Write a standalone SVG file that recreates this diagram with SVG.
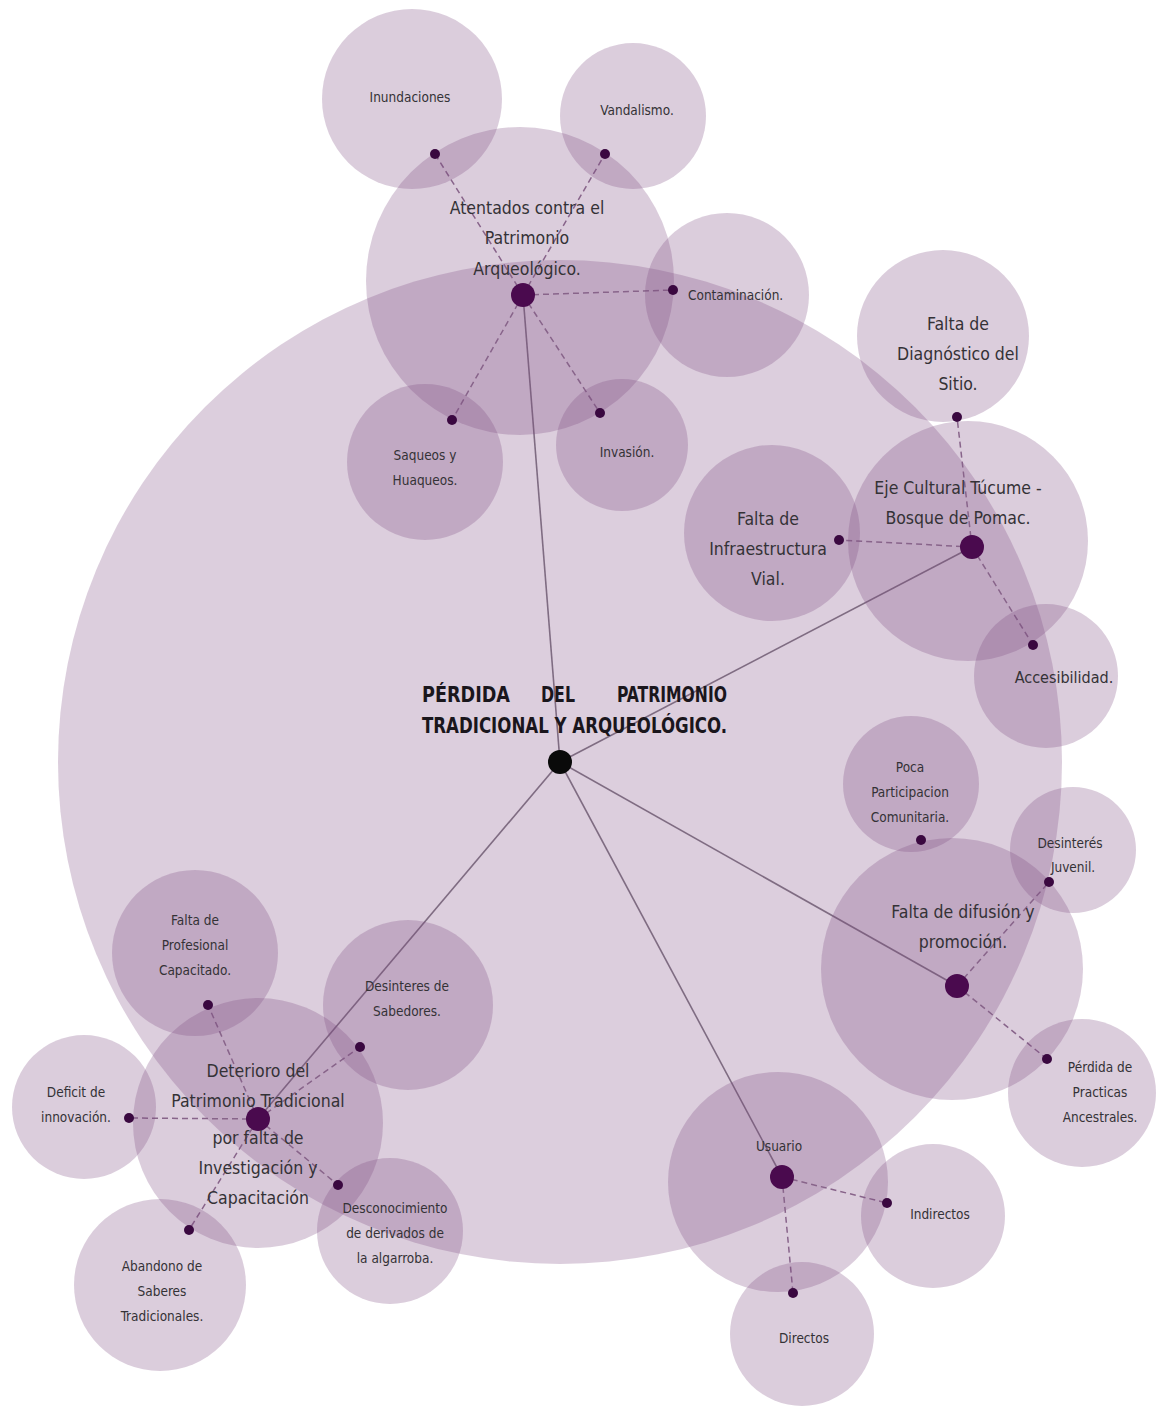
<svg xmlns="http://www.w3.org/2000/svg" width="1172" height="1406" viewBox="0 0 1172 1406">
<style>
.bg{fill:#ffffff}
.c{fill:#7d4a80;fill-opacity:0.28}
.big{fill:#7d4a80;fill-opacity:0.27}
.main{stroke:#7f6c82;stroke-width:1.6;fill:none}
.dash{stroke:#8c6e8e;stroke-width:1.5;stroke-dasharray:6 4;fill:none}
.hd{fill:#4a0a4e}
.sd{fill:#3a0840}
.t{font-family:"DejaVu Sans Condensed","DejaVu Sans",sans-serif;fill:#343236;text-anchor:middle}
.s{font-size:13.5px}
.h{font-size:17.5px}
.title{font-family:"DejaVu Sans Condensed","DejaVu Sans",sans-serif;font-weight:bold;font-size:22px;fill:#1a161c}
</style>
<rect class="bg" x="0" y="0" width="1172" height="1406"/>
<g id="center-halo"><circle class="big" cx="560" cy="762" r="502"/></g>
<g id="connectors">
<line class="main" x1="560" y1="762" x2="523" y2="295"/>
<line class="main" x1="560" y1="762" x2="972" y2="547"/>
<line class="main" x1="560" y1="762" x2="957" y2="986"/>
<line class="main" x1="560" y1="762" x2="782" y2="1177"/>
<line class="main" x1="560" y1="762" x2="258" y2="1119"/>
<line class="dash" x1="523" y1="295" x2="435" y2="154"/>
<line class="dash" x1="523" y1="295" x2="605" y2="154"/>
<line class="dash" x1="523" y1="295" x2="673" y2="290"/>
<line class="dash" x1="523" y1="295" x2="452" y2="420"/>
<line class="dash" x1="523" y1="295" x2="600" y2="413"/>
<line class="dash" x1="972" y1="547" x2="957" y2="417"/>
<line class="dash" x1="972" y1="547" x2="839" y2="540"/>
<line class="dash" x1="972" y1="547" x2="1033" y2="645"/>
<line class="dash" x1="957" y1="986" x2="1049" y2="882"/>
<line class="dash" x1="957" y1="986" x2="1047" y2="1059"/>
<line class="dash" x1="782" y1="1177" x2="887" y2="1203"/>
<line class="dash" x1="782" y1="1177" x2="793" y2="1293"/>
<line class="dash" x1="258" y1="1119" x2="208" y2="1005"/>
<line class="dash" x1="258" y1="1119" x2="129" y2="1118"/>
<line class="dash" x1="258" y1="1119" x2="189" y2="1230"/>
<line class="dash" x1="258" y1="1119" x2="338" y2="1185"/>
<line class="dash" x1="258" y1="1119" x2="360" y2="1047"/>
</g>
<g id="node-atentados">
<circle class="c" cx="520" cy="281" r="154"/>
<circle class="hd" cx="523" cy="295" r="12"/>
<text class="t h" x="527" y="214">Atentados contra el</text>
<text class="t h" x="527" y="244">Patrimonio</text>
<text class="t h" x="527" y="275">Arqueológico.</text>
</g>
<g id="node-inundaciones">
<circle class="c" cx="412" cy="99" r="90"/>
<circle class="sd" cx="435" cy="154" r="5"/>
<text class="t s" x="410" y="102">Inundaciones</text>
</g>
<g id="node-vandalismo">
<circle class="c" cx="633" cy="116" r="73"/>
<circle class="sd" cx="605" cy="154" r="5"/>
<text class="t s" x="637" y="115">Vandalismo.</text>
</g>
<g id="node-contaminacion">
<circle class="c" cx="727" cy="295" r="82"/>
<circle class="sd" cx="673" cy="290" r="5"/>
<text class="t s" x="688" y="300" style="text-anchor:start">Contaminación.</text>
</g>
<g id="node-saqueos">
<circle class="c" cx="425" cy="462" r="78"/>
<circle class="sd" cx="452" cy="420" r="5"/>
<text class="t s" x="425" y="460">Saqueos y</text>
<text class="t s" x="425" y="485">Huaqueos.</text>
</g>
<g id="node-invasion">
<circle class="c" cx="622" cy="445" r="66"/>
<circle class="sd" cx="600" cy="413" r="5"/>
<text class="t s" x="627" y="457">Invasión.</text>
</g>
<g id="node-eje">
<circle class="c" cx="968" cy="541" r="120"/>
<circle class="hd" cx="972" cy="547" r="12"/>
<text class="t h" x="958" y="494">Eje Cultural Túcume -</text>
<text class="t h" x="958" y="524">Bosque de Pomac.</text>
</g>
<g id="node-diagnostico">
<circle class="c" cx="943" cy="336" r="86"/>
<circle class="sd" cx="957" cy="417" r="5"/>
<text class="t h" x="958" y="330">Falta de</text>
<text class="t h" x="958" y="360">Diagnóstico del</text>
<text class="t h" x="958" y="390">Sitio.</text>
</g>
<g id="node-infraestructura">
<circle class="c" cx="772" cy="533" r="88"/>
<circle class="sd" cx="839" cy="540" r="5"/>
<text class="t h" x="768" y="525">Falta de</text>
<text class="t h" x="768" y="555">Infraestructura</text>
<text class="t h" x="768" y="585">Vial.</text>
</g>
<g id="node-accesibilidad">
<circle class="c" cx="1046" cy="676" r="72"/>
<circle class="sd" cx="1033" cy="645" r="5"/>
<text class="t" x="1064" y="683" style="font-size:16px">Accesibilidad.</text>
</g>
<g id="node-difusion">
<circle class="c" cx="952" cy="969" r="131"/>
<circle class="hd" cx="957" cy="986" r="12"/>
<text class="t h" x="963" y="918">Falta de difusión y</text>
<text class="t h" x="963" y="948">promoción.</text>
</g>
<g id="node-participacion">
<circle class="c" cx="911" cy="784" r="68"/>
<circle class="sd" cx="921" cy="840" r="5"/>
<text class="t s" x="910" y="772">Poca</text>
<text class="t s" x="910" y="797">Participacion</text>
<text class="t s" x="910" y="822">Comunitaria.</text>
</g>
<g id="node-desinteres-juvenil">
<circle class="c" cx="1073" cy="850" r="63"/>
<circle class="sd" cx="1049" cy="882" r="5"/>
<text class="t s" x="1070" y="848">Desinterés</text>
<text class="t s" x="1073" y="872">Juvenil.</text>
</g>
<g id="node-practicas">
<circle class="c" cx="1082" cy="1093" r="74"/>
<circle class="sd" cx="1047" cy="1059" r="5"/>
<text class="t s" x="1100" y="1072">Pérdida de</text>
<text class="t s" x="1100" y="1097">Practicas</text>
<text class="t s" x="1100" y="1122">Ancestrales.</text>
</g>
<g id="node-usuario">
<circle class="c" cx="778" cy="1182" r="110"/>
<circle class="hd" cx="782" cy="1177" r="12"/>
<text class="t s" x="779" y="1151">Usuario</text>
</g>
<g id="node-indirectos">
<circle class="c" cx="933" cy="1216" r="72"/>
<circle class="sd" cx="887" cy="1203" r="5"/>
<text class="t s" x="940" y="1219">Indirectos</text>
</g>
<g id="node-directos">
<circle class="c" cx="802" cy="1334" r="72"/>
<circle class="sd" cx="793" cy="1293" r="5"/>
<text class="t s" x="804" y="1343">Directos</text>
</g>
<g id="node-deterioro">
<circle class="c" cx="258" cy="1123" r="125"/>
<circle class="hd" cx="258" cy="1119" r="12"/>
<text class="t h" x="258" y="1077">Deterioro del</text>
<text class="t h" x="258" y="1107">Patrimonio Tradicional</text>
<text class="t h" x="258" y="1144">por falta de</text>
<text class="t h" x="258" y="1174">Investigación y</text>
<text class="t h" x="258" y="1204">Capacitación</text>
</g>
<g id="node-profesional">
<circle class="c" cx="195" cy="953" r="83"/>
<circle class="sd" cx="208" cy="1005" r="5"/>
<text class="t s" x="195" y="925">Falta de</text>
<text class="t s" x="195" y="950">Profesional</text>
<text class="t s" x="195" y="975">Capacitado.</text>
</g>
<g id="node-sabedores">
<circle class="c" cx="408" cy="1005" r="85"/>
<circle class="sd" cx="360" cy="1047" r="5"/>
<text class="t s" x="407" y="991">Desinteres de</text>
<text class="t s" x="407" y="1016">Sabedores.</text>
</g>
<g id="node-innovacion">
<circle class="c" cx="84" cy="1107" r="72"/>
<circle class="sd" cx="129" cy="1118" r="5"/>
<text class="t s" x="76" y="1097">Deficit de</text>
<text class="t s" x="76" y="1122">innovación.</text>
</g>
<g id="node-abandono">
<circle class="c" cx="160" cy="1285" r="86"/>
<circle class="sd" cx="189" cy="1230" r="5"/>
<text class="t s" x="162" y="1271">Abandono de</text>
<text class="t s" x="162" y="1296">Saberes</text>
<text class="t s" x="162" y="1321">Tradicionales.</text>
</g>
<g id="node-algarroba">
<circle class="c" cx="390" cy="1231" r="73"/>
<circle class="sd" cx="338" cy="1185" r="5"/>
<text class="t s" x="395" y="1213">Desconocimiento</text>
<text class="t s" x="395" y="1238">de derivados de</text>
<text class="t s" x="395" y="1263">la algarroba.</text>
</g>
<g id="node-center">
<circle cx="560" cy="762" r="12" fill="#0a0a0a"/>
<text class="title" x="422" y="702" textLength="88" lengthAdjust="spacingAndGlyphs">PÉRDIDA</text>
<text class="title" x="541" y="702" textLength="34" lengthAdjust="spacingAndGlyphs">DEL</text>
<text class="title" x="617" y="702" textLength="110" lengthAdjust="spacingAndGlyphs">PATRIMONIO</text>
<text class="title" x="422" y="733" textLength="305" lengthAdjust="spacingAndGlyphs">TRADICIONAL Y ARQUEOLÓGICO.</text>
</g>
</svg>
